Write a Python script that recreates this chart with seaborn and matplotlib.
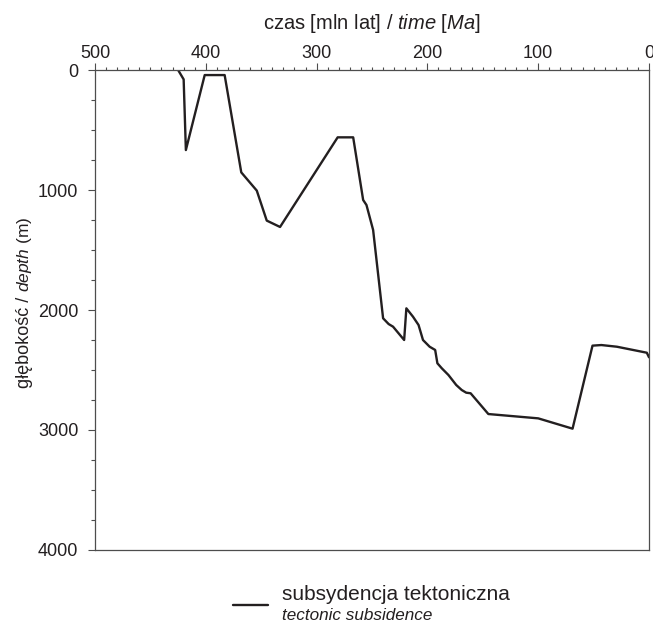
import numpy as np
import pandas as pd
import matplotlib
matplotlib.use("Agg")
import matplotlib.pyplot as plt
from matplotlib.ticker import MultipleLocator
from matplotlib.legend_handler import HandlerLine2D
import seaborn as sns

# wiek [Ma] i glebokosc [m] - subsydencja tektoniczna
age_ma = [425, 420, 418, 401, 383, 368, 354, 345, 333, 281, 267,
          258, 255, 249, 240, 235, 231, 221, 219, 213, 208, 204,
          198, 193, 191, 187, 181, 174, 169, 165, 161, 145, 100,
          69, 51, 43, 29, 2, 0]
depth_m = [0, 78, 667, 42, 42, 853, 1005, 1255, 1308, 561, 561,
           1083, 1125, 1333, 2069, 2117, 2139, 2250, 1986, 2056, 2125, 2250,
           2306, 2333, 2444, 2486, 2542, 2625, 2667, 2689, 2694, 2867, 2903,
           2989, 2297, 2292, 2306, 2356, 2394]

x_ticks = [500, 400, 300, 200, 100, 0]
y_ticks = [0, 1000, 2000, 3000, 4000]

sns.set_theme(style="ticks")
plt.rcParams['font.family'] = ['Liberation Sans', 'DejaVu Sans']
plt.rcParams['mathtext.fontset'] = 'custom'
plt.rcParams['mathtext.rm'] = 'Liberation Sans'
plt.rcParams['mathtext.it'] = 'Liberation Sans:italic'

INK = "#231f20"
AXC = "#4d4d4d"


class LowLine(HandlerLine2D):
    """kreska legendy troche nizej, miedzy dwiema liniami opisu"""
    def create_artists(self, legend, orig_handle, xdescent, ydescent,
                       width, height, fontsize, trans):
        arts = super().create_artists(legend, orig_handle, xdescent, ydescent,
                                      width, height, fontsize, trans)
        for a in arts:
            a.set_ydata(np.asarray(a.get_ydata()) - 0.55 * fontsize)
        return arts


df = pd.DataFrame({"age": age_ma, "depth": depth_m})

fig = plt.figure(figsize=(6.53, 6.23), dpi=100)
ax = fig.add_axes([0.1455, 0.1172, 0.8484, 0.7704])

sns.lineplot(data=df, x="age", y="depth", sort=False, estimator=None,
             color=INK, linewidth=1.7, ax=ax, label="subsydencja tektoniczna")

ax.set_xlim(500, 0)
ax.set_ylim(4000, 0)
ax.set_xticks(x_ticks)
ax.set_yticks(y_ticks)
ax.xaxis.set_minor_locator(MultipleLocator(10))
ax.yaxis.set_minor_locator(MultipleLocator(250))
ax.xaxis.tick_top()
ax.xaxis.set_label_position("top")
ax.tick_params(axis="both", which="major", direction="out", length=5,
               width=0.8, color=AXC, labelsize=13, labelcolor=INK)
ax.tick_params(axis="both", which="minor", direction="out", length=2.5,
               width=0.8, color=AXC)
ax.tick_params(axis="x", which="major", pad=0.5)
ax.tick_params(axis="y", which="major", pad=7)
ax.tick_params(axis="y", which="minor", length=3)
for s in ax.spines.values():
    s.set_color(AXC)
    s.set_linewidth(0.9)

ax.set_xlabel(r"czas [mln lat] / $\mathit{time}$ [$\mathit{Ma}$]",
              fontsize=14.5, color=INK, labelpad=12)
ax.set_ylabel("")
fig.text(0.038, 0.532, "głębokość / ", rotation=90, fontsize=13, color=INK,
         ha="center", va="top")
fig.text(0.038, 0.532, r"$\mathit{depth}$ (m)", rotation=90, fontsize=12.5,
         color=INK, ha="center", va="bottom")

# legenda pod wykresem
leg = fig.legend(loc="center left", bbox_to_anchor=(233 / 653, 0.045),
                 frameon=False, fontsize=15, handlelength=1.68,
                 handletextpad=0.67, borderpad=0, borderaxespad=0,
                 labelcolor=INK, handler_map={plt.Line2D: LowLine()})
ax.get_legend().remove()
leg.get_lines()[0].set_linewidth(1.7)
fig.text(282 / 653, 0.0128, "tectonic subsidence", fontstyle="italic",
         fontsize=12.3, color=INK, ha="left", va="center")

fig.savefig("out.png", dpi=100)
